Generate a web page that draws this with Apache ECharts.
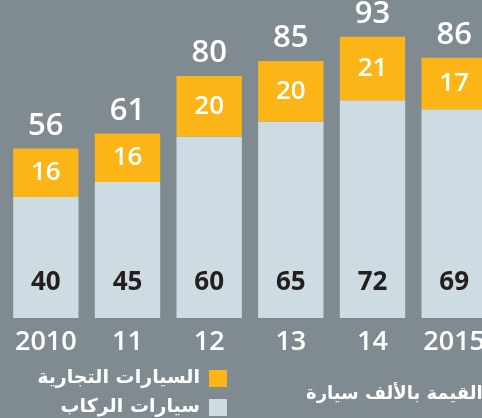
<!DOCTYPE html>
<html>
<head>
<meta charset="UTF-8">
<title>ECharts</title>
<script src="https://cdn.jsdelivr.net/npm/echarts@6/dist/echarts.min.js"></script>
<style>html,body{margin:0;padding:0;background:#808b91;}#main{width:482px;height:418px;}</style>
</head>
<body>
<div id="main"></div>
<script>
// السنوات
var years = ['2010', '11', '12', '13', '14', '2015'];
// سيارات الركاب
var passenger = [40, 45, 60, 65, 72, 69];
// السيارات التجارية
var commercial = [16, 16, 20, 20, 21, 17];
var totals = passenger.map(function (v, i) { return v + commercial[i]; });

var numFont = "'Open Sans', sans-serif";
var arFont = "'DejaVu Sans', sans-serif";

var legendText = { color: '#fff', fontSize: 19, fontWeight: 'bold', fontFamily: arFont, padding: [0, 4, 0, 0] };

var myChart = echarts.init(document.getElementById('main'));
var option = {
    backgroundColor: '#808b91',
    animation: false,
    title: {
        text: 'القيمة بالألف سيارة',
        left: 301,
        top: 380,
        textStyle: { color: '#fff', fontSize: 18, fontWeight: 'bold', fontFamily: arFont }
    },
    // اثنان من وسائل الإيضاح حتى لا يلتف التخطيط
    legend: [
        {
            right: 250, top: 364, align: 'right',
            itemWidth: 18, itemHeight: 17, icon: 'rect',
            data: ['السيارات التجارية'],
            textStyle: legendText
        },
        {
            right: 250, top: 393, align: 'right',
            itemWidth: 18, itemHeight: 17, icon: 'rect',
            data: ['سيارات الركاب'],
            textStyle: legendText
        }
    ],
    grid: { left: 5, right: -13, top: 15.5, bottom: 100, outerBoundsMode: 'none' },
    xAxis: {
        type: 'category',
        data: years,
        axisLine: { show: false },
        axisTick: { show: false },
        axisLabel: {
            color: '#fff', fontSize: 27, fontWeight: 600, fontFamily: numFont, margin: 11
        }
    },
    yAxis: {
        type: 'value', min: 0, max: 100, show: false,
        splitLine: { show: false }
    },
    series: [
        {
            name: 'سيارات الركاب',
            type: 'bar',
            stack: 'all',
            barCategoryGap: '20%',
            data: passenger,
            itemStyle: { color: '#cddce3' },
            label: {
                show: true, position: 'insideBottom', distance: 22,
                color: '#231f20', fontSize: 26, fontWeight: 'bold', fontFamily: numFont
            }
        },
        {
            name: 'السيارات التجارية',
            type: 'bar',
            stack: 'all',
            data: commercial,
            itemStyle: { color: '#fbb516' },
            label: {
                show: true, position: 'inside',
                color: '#fff', fontSize: 26, fontWeight: 600, fontFamily: numFont
            }
        },
        {
            name: 'total',
            type: 'bar',
            barGap: '-100%',
            data: totals,
            itemStyle: { color: 'rgba(0,0,0,0)' },
            silent: true,
            z: 1,
            label: {
                show: true, position: 'top', distance: 7,
                color: '#fff', fontSize: 31, fontWeight: 600, fontFamily: numFont
            }
        }
    ]
};
myChart.setOption(option);
</script>
</body>
</html>
